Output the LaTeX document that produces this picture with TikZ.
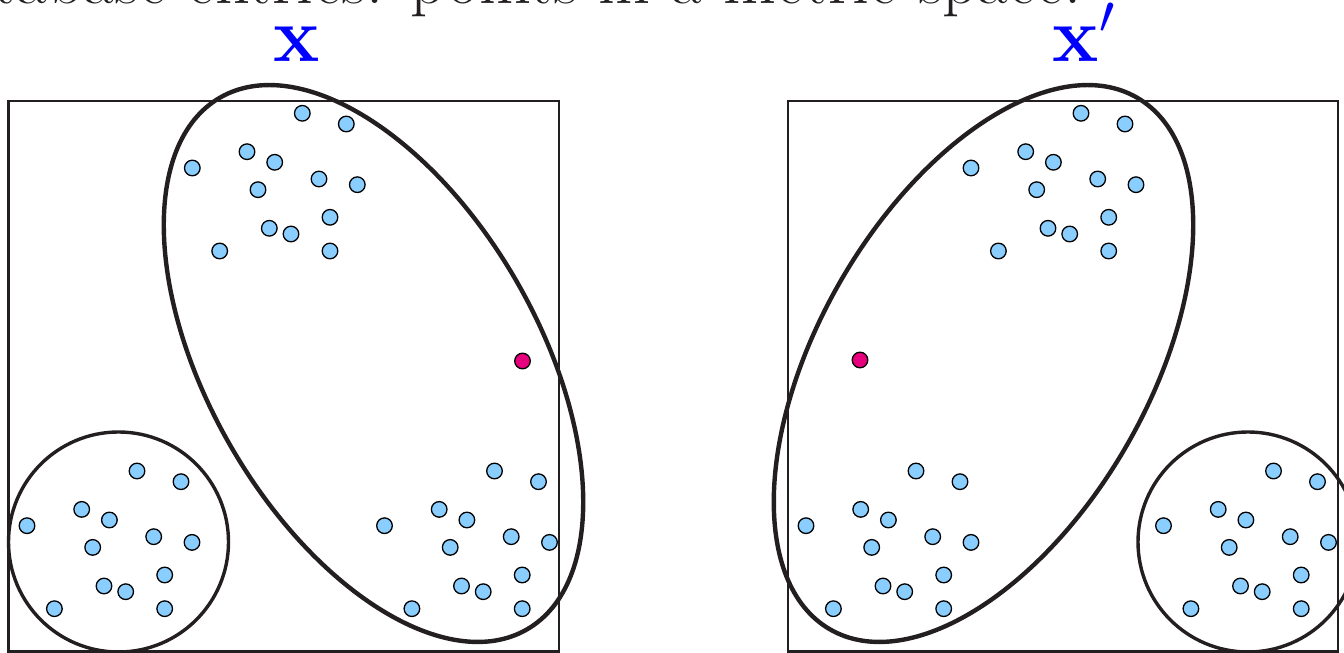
\RequirePackage{fix-cm}
\documentclass[tikz,border=0pt]{standalone}
\definecolor{ptblue}{RGB}{138,206,255}
\definecolor{qred}{RGB}{230,0,126}
\definecolor{inkblack}{RGB}{35,31,32}
\begin{document}
\begin{tikzpicture}[x=0.5pt, y=0.5pt,
    datapt/.style={circle, draw=black, line width=0.65pt, fill=ptblue,
      inner sep=0pt, minimum size=7.8pt},
    querypt/.style={datapt, fill=qred},
    panel/.style={draw=inkblack, line width=1.35pt},
    bigset/.style={draw=inkblack, line width=2.2pt},
    smallset/.style={draw=inkblack, line width=1.7pt},
    lbl/.style={text=blue, inner sep=0pt, font=\fontsize{39}{45}\selectfont}
  ]
    \useasboundingbox (0,0) rectangle (1344,653);
    \clip (0,0) rectangle (1344,653);

    % caption line, cut at the top and left
    \node[anchor=base east, inner sep=0pt, text=inkblack,
      font=\fontsize{34.2}{40}\selectfont] (title) at (1082,649)
      {Database entries: points in a metric space.};

    % the two copies of the space
    \node[lbl, anchor=base] (xlab) at (297,591) {$\mathbf{x}$};
    \node[lbl, anchor=base west] (xplab) at (1052.5,591) {$\mathbf{x}'$};

    \draw[panel] (8.5,1.5) rectangle (559,552);
    \draw[panel] (788,1.5) rectangle (1338,552);

    % groupings
    \draw[bigset, rotate around={-60:(373.5,289.5)}]
      (373.5,289.5) ellipse [x radius=307, y radius=165];
    \draw[smallset] (118.5,111) circle [radius=110];
    \draw[bigset, rotate around={60:(983.5,289.5)}]
      (983.5,289.5) ellipse [x radius=307, y radius=165];
    \draw[smallset] (1248,111) circle [radius=110];

    % clusters of points (same pattern each time)
    \foreach \name/\ox/\oy in {lt/302.3/539.7, lb/137/182, lr/494.5/182,
                               rt/1081/539.7, rb/916/182, rr/1273.5/182} {
      \foreach \dx/\dy [count=\i] in {0/0, 44/-10.7, -110/-54.7, -55.3/-38.4,
          -27.6/-49, -44.3/-76.4, 16.7/-65.7, 55/-71.4, 27.7/-104,
          -33/-115, -11.3/-120.7, -82.6/-137.7, 27.7/-137.7}
        \node[datapt] (\name-\i) at (\ox+\dx,\oy+\dy) {};
    }

    % the moved point
    \node[querypt] (qleft) at (522.5,292) {};
    \node[querypt] (qright) at (860,293) {};
\end{tikzpicture}
\end{document}
